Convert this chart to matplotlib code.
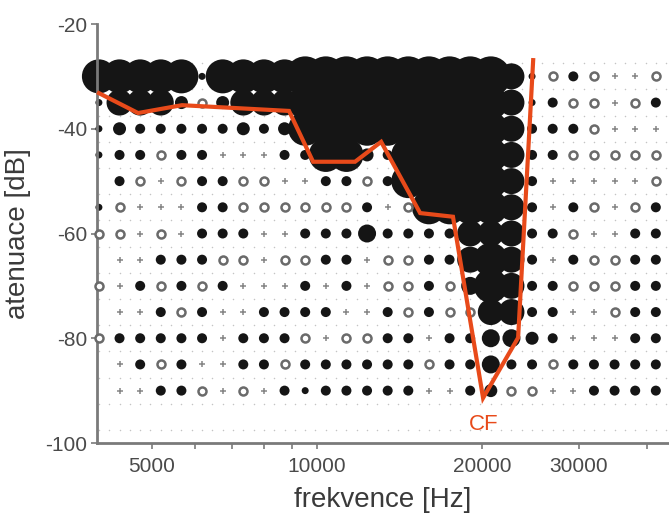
import numpy as np
import matplotlib.pyplot as plt
from matplotlib.ticker import FixedLocator, FixedFormatter, NullFormatter

plt.rcParams['font.family'] = ['Liberation Sans', 'DejaVu Sans']

# stimulus grid: 1/8-octave frequency steps, 5 dB attenuation steps
freqs = [4000, 4362, 4757, 5187, 5657, 6169, 6727, 7336, 8000, 8724, 9514,
         10375, 11314, 12338, 13454, 14672, 16000, 17448, 19027, 20749,
         22627, 24675, 26909, 29344, 32000, 34896, 38055, 41499]
levels = [-30, -35, -40, -45, -50, -55, -60, -65, -70, -75, -80, -85, -90]

# response class per cell: 0 none, 1 cross, 2 ring, 3..9 filled dots of growing size
resp_rows = [
    "8888838888999999999973242112",
    "3777525777888888888873422124",
    "3544444545888888888874442111",
    "3442441114488548888874422222",
    "0421244221144248888874111112",
    "3211144222222412888874142124",
    "2212144411444644447774421144",
    "0114442212244122447874142244",
    "2142424111414122426874422244",
    "0114241144441142422774411244",
    "2444441444212244144665411144",
    "0142411442444444244644244444",
    "0114421214344444114522114444",
]

# threshold curve (orange)
thr_freq = [4000, 4715, 5670, 8890, 9835, 11730, 13090, 15420, 17700, 20085, 23270, 24790]
thr_db = [-33.2, -37.0, -35.5, -36.6, -46.3, -46.3, -42.5, -56.1, -56.8, -91.4, -79.9, -26.9]

diam_px = {1: 6, 2: 8, 3: 7, 4: 10, 5: 13, 6: 18, 7: 26, 8: 34, 9: 40}

fig = plt.figure(figsize=(6.69, 5.17), dpi=100)
ax = fig.add_axes([97 / 669, 1 - 443 / 517, 1 - 97 / 669, (443 - 24) / 517])
ax.set_xscale('log')

# faint background dots between grid cells
bg_f = [f for f in freqs] + [f * 2 ** (1 / 16) for f in freqs]
bg_l = [l + 2.5 for l in levels] + [levels[-1] - 2.5, levels[-1] - 7.5]
BX, BY = np.meshgrid(bg_f, bg_l)
ax.scatter(BX.ravel(), BY.ravel(), s=1.2, color='#c4c4c4', linewidths=0, zorder=1)

cross_x, cross_y = [], []
ring_x, ring_y = [], []
dot_x, dot_y, dot_s = [], [], []
for lev, row in zip(levels, resp_rows):
    for f, ch in zip(freqs, row):
        c = int(ch)
        if c == 0:
            continue
        if c == 1:
            cross_x.append(f)
            cross_y.append(lev)
        elif c == 2:
            ring_x.append(f)
            ring_y.append(lev)
        else:
            dot_x.append(f)
            dot_y.append(lev)
            dot_s.append((diam_px[c] * 0.72) ** 2)

ax.scatter(dot_x, dot_y, s=dot_s, color='#151515', linewidths=0, zorder=2, clip_on=False)
ax.scatter(ring_x, ring_y, s=(diam_px[2] * 0.72) ** 2, facecolor='white', edgecolor='#6a6a6a',
           linewidths=1.8, zorder=3, clip_on=False)
ax.scatter(cross_x, cross_y, s=(diam_px[1] * 0.72) ** 2, marker='+', color='#858585',
           linewidths=1.1, zorder=3, clip_on=False)

ax.plot(thr_freq, thr_db, color='#E84A1A', linewidth=3, zorder=5, clip_on=False,
        solid_joinstyle='miter')
ax.text(20100, -96.5, 'CF', color='#E84A1A', fontsize=16, ha='center', va='center', zorder=6)

ax.set_xlim(3968, 43860)
ax.set_ylim(-100, -20)

ax.xaxis.set_major_locator(FixedLocator([5000, 10000, 20000, 30000]))
ax.xaxis.set_major_formatter(FixedFormatter(['5000', '10000', '20000', '30000']))
ax.xaxis.set_minor_locator(FixedLocator([6000, 7000, 8000, 9000, 40000]))
ax.xaxis.set_minor_formatter(NullFormatter())
ax.set_yticks([-20, -40, -60, -80, -100])
ax.set_yticklabels(['-20', '-40', '-60', '-80', '-100'])

for side in ['top', 'right']:
    ax.spines[side].set_visible(False)
for side in ['left', 'bottom']:
    ax.spines[side].set_color('#7a7a7a')
    ax.spines[side].set_linewidth(2)

ax.tick_params(axis='both', which='both', direction='out', length=4, width=1.2,
               color='#7a7a7a', labelcolor='#4a4a4a', labelsize=15)
ax.tick_params(axis='x', pad=6)
ax.tick_params(axis='y', pad=3)

ax.set_xlabel('frekvence [Hz]', fontsize=20, color='#3a3a3a', labelpad=8)
ax.set_ylabel('atenuace [dB]', fontsize=20, color='#3a3a3a', labelpad=10)

fig.savefig('out.png', dpi=100)
